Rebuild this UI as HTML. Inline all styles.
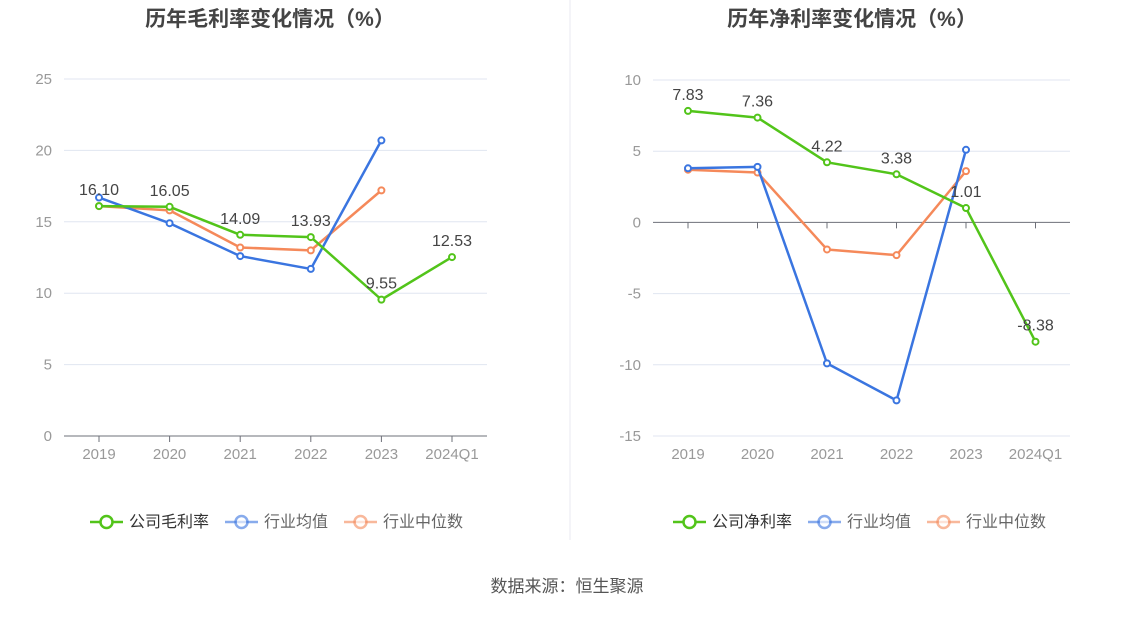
<!DOCTYPE html>
<html><head><meta charset="utf-8"><style>
body{margin:0;background:#fff;font-family:"Liberation Sans","Noto Sans CJK SC",sans-serif}
svg text{font-family:"Liberation Sans","Noto Sans CJK SC",sans-serif}
</style></head><body>
<svg id="s" width="1134" height="612" xmlns="http://www.w3.org/2000/svg">
<line x1="570" y1="0" x2="570" y2="540" stroke="#e8eaf0" stroke-width="1"/>
<text x="270" y="26" text-anchor="middle" font-size="21" font-weight="bold" fill="#444">历年毛利率变化情况（%）</text>
<text x="852" y="26" text-anchor="middle" font-size="21" font-weight="bold" fill="#444">历年净利率变化情况（%）</text>
<text x="567" y="592" text-anchor="middle" font-size="17" fill="#555">数据来源：恒生聚源</text>
</svg>
<script>
const categories=["2019","2020","2021","2022","2023","2024Q1"];
const grossCompany=[16.10,16.05,14.09,13.93,9.55,12.53];
const grossAvg=[16.7,14.9,12.6,11.7,20.7];
const grossMedian=[16.1,15.8,13.2,13.0,17.2];
const netCompany=[7.83,7.36,4.22,3.38,1.01,-8.38];
const netAvg=[3.8,3.9,-9.9,-12.5,5.1];
const netMedian=[3.7,3.5,-1.9,-2.3,3.6];
const leftTicks=[0,5,10,15,20,25];
const rightTicks=[-15,-10,-5,0,5,10];
const svg=document.getElementById('s');
const NS="http://www.w3.org/2000/svg";
function mk(t,a,p){const e=document.createElementNS(NS,t);for(const k in a)e.setAttribute(k,a[k]);(p||svg).appendChild(e);return e;}
const GREEN="#52c41a",BLUE="#3a75e0",ORANGE="#f5895a";
function chart(o){
  const g=mk('g',{});
  
  
  const x=i=>o.x0+o.step*i;
  const y=v=>o.yTop+(o.max-v)/(o.max-o.min)*(o.yBot-o.yTop);
  o.ticks.forEach(t=>{
    const gl=mk('line',{x1:o.left,x2:o.right,y1:y(t),y2:y(t),stroke:t===o.axisAt?"#6e7079":"#e0e6f1"},g);
    
    
    const tl=mk('text',{x:o.left-12,y:y(t)+5,'text-anchor':'end','font-size':15,fill:'#999'},g);
    tl.textContent=t;
    
    
  });
  const ay=y(o.axisAt);
  categories.forEach((c,i)=>{
    const tk=mk('line',{x1:x(i),x2:x(i),y1:ay,y2:ay+6,stroke:"#6e7079"},g);
    
    
    const tl=mk('text',{x:x(i),y:o.yBot+23,'text-anchor':'middle','font-size':15,fill:'#999'},g);
    tl.textContent=c;
    
    
  });
  [[o.median,ORANGE,'median'],[o.avg,BLUE,'average'],[o.company,GREEN,'company']].forEach(([d,col,nm])=>{
    const pl=mk('polyline',{points:d.map((v,i)=>x(i)+','+y(v)).join(' '),fill:'none',stroke:col,'stroke-width':2.5,'stroke-linejoin':'round'},g);
    
    
    d.forEach((v,i)=>{
      const c=mk('circle',{cx:x(i),cy:y(v),r:3,fill:'#fff',stroke:col,'stroke-width':2},g);
      
      
    });
  });
  o.company.forEach((v,i)=>{
    const t=mk('text',{x:x(i),y:y(v)-11,'text-anchor':'middle','font-size':16,fill:'#444'},g);
    t.textContent=v.toFixed(2);
    
    
  });
  const items=[[o.label,GREEN],['行业均值',BLUE],['行业中位数',ORANGE]];
  let lx=o.legendX;
  items.forEach(([txt,col],k)=>{
    const lg=mk('g',{},g);
    
    
    const op=k===0?1:0.6;
    mk('line',{x1:lx,x2:lx+33,y1:522,y2:522,stroke:col,'stroke-width':2.5,opacity:op},lg);
    mk('circle',{cx:lx+16.5,cy:522,r:6,fill:'#fff',stroke:col,'stroke-width':2.5,opacity:op},lg);
    const t=mk('text',{x:lx+39,y:527,'font-size':16,fill:k===0?'#333':'#666'},lg);
    t.textContent=txt;
    lx+=39+txt.length*16+16;
  });
}
chart({name:'gross-margin-chart',left:64,right:487,x0:99,step:70.6,yTop:79,yBot:436,max:25,min:0,ticks:leftTicks,axisAt:0,
  company:grossCompany,avg:grossAvg,median:grossMedian,label:'公司毛利率',legendX:90});
chart({name:'net-margin-chart',left:653,right:1070,x0:688,step:69.5,yTop:80,yBot:436,max:10,min:-15,ticks:rightTicks,axisAt:0,
  company:netCompany,avg:netAvg,median:netMedian,label:'公司净利率',legendX:673});
</script>
</body></html>
